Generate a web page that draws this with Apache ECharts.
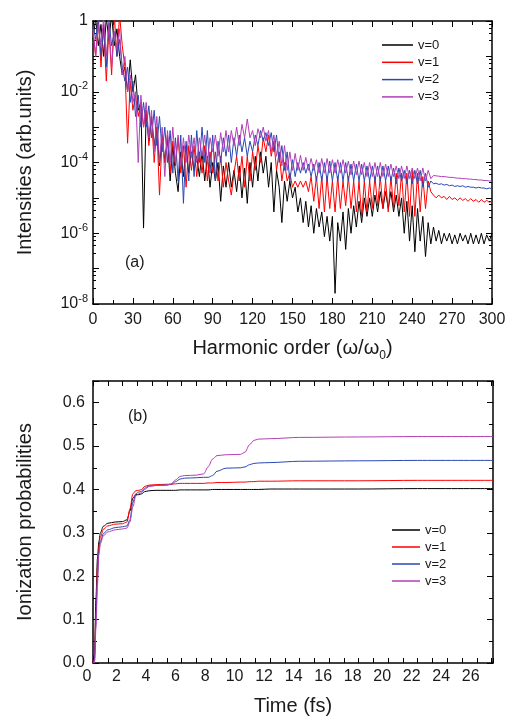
<!DOCTYPE html>
<html><head><meta charset="utf-8">
<script src="https://cdn.jsdelivr.net/npm/echarts@6/dist/echarts.min.js"></script>
<style>html,body{margin:0;padding:0;background:#fff}#c{width:513px;height:720px}</style>
</head><body><div id="c"></div>
<script>
// ---------- Panel (a): HHG spectra ----------
const harmonicOrders = [
  0,2,4,6,8,10,12,14,16,18,
  20,22,24,26,28,30,32,34,36,38,
  40,42,44,46,48,50,52,54,56,58,
  60,62,64,66,68,70,72,74,76,78,
  80,82,84,86,88,90,92,94,96,98,
  100,102,104,106,108,110,112,114,116,118,
  120,122,124,126,128,130,132,134,136,138,
  140,142,144,146,148,150,152,154,156,158,
  160,162,164,166,168,170,172,174,176,178,
  180,182,184,186,188,190,192,194,196,198,
  200,202,204,206,208,210,212,214,216,218,
  220,222,224,226,228,230,232,234,236,238,
  240,242,244,246,248,250,252,254,256,258,
  260,262,264,266,268,270,272,274,276,278,
  280,282,284,286,288,290,292,294,296,298,
  300];

const intensityV0 = [
  0.3,1.2,0.2,0.8,0.1,1.2,0.3,1.5,0.2,0.6,
  0.1,0.03,0.05,0.01,0.08,0.01,0.03,3e-3,5e-3,1.4e-6,
  3e-3,4e-4,2e-3,3e-4,1e-3,8e-5,6e-4,1e-4,5e-4,3e-5,
  3e-4,5e-5,1.5e-5,2e-4,4e-5,3e-4,5e-5,2e-4,6e-5,1.5e-4,
  4e-5,2e-4,3e-5,1.5e-4,2e-5,1e-4,3e-5,1e-4,8e-6,8e-5,
  2e-5,1e-4,2e-5,6e-5,1.5e-5,8e-5,1e-5,7e-5,7e-6,1e-4,
  2e-5,1.5e-4,3e-5,2e-4,5e-5,1.5e-4,2e-5,1e-4,4e-6,6e-5,
  2e-5,2e-6,3e-5,8e-6,3e-5,1e-5,2e-5,4e-6,1e-5,2e-6,
  8e-6,1.5e-6,6e-6,1e-6,5e-6,1.5e-6,4e-6,8e-7,3e-6,6e-7,
  3e-6,2e-8,2e-6,6e-7,4e-6,3.5e-7,5e-6,1e-6,6e-6,1.5e-6,
  8e-6,2e-6,1e-5,3e-6,1e-5,3e-6,1.2e-5,4e-6,1.5e-5,5e-6,
  1.5e-5,5e-6,1.5e-5,4e-6,1.2e-5,3e-6,1e-5,1e-6,8e-6,6e-7,
  6e-6,3e-7,5e-6,6e-7,3e-6,2.2e-7,2e-6,5e-7,1.5e-6,6e-7,
  1.2e-6,5e-7,1e-6,6e-7,1e-6,5e-7,9e-7,5e-7,1e-6,6e-7,
  9e-7,5e-7,1e-6,5e-7,9e-7,5e-7,1e-6,5e-7,9e-7,6e-7,
  1e-6];

const intensityV1 = [
  0.5,0.1,1.2,0.05,0.8,0.02,0.6,0.03,1.5,0.1,
  1.5,0.2,0.05,3.5e-4,0.02,3e-3,8e-3,2e-3,5e-3,1e-3,
  3e-3,3e-4,2e-3,1e-4,1e-3,1.2e-5,5e-4,1e-4,6e-4,5e-5,
  4e-4,8e-5,5e-4,5e-5,3e-4,2e-5,3e-4,6e-5,3e-4,4e-5,
  2e-4,5e-5,3e-4,3e-5,2e-4,5e-5,2e-4,3e-5,1.5e-4,2e-5,
  1e-4,3e-5,1.2e-5,5e-5,1.5e-4,3e-5,1.5e-4,2e-5,1.5e-4,3e-5,
  2e-4,6e-5,3e-4,1e-4,5e-4,2e-4,6e-4,1.5e-4,4e-4,6e-5,
  2e-4,3e-5,1e-4,3e-5,5e-5,2e-5,3e-5,2e-5,3e-5,2e-5,
  3e-5,1.5e-5,4e-5,8e-6,4e-5,5e-6,4e-5,4e-6,4e-5,5e-6,
  3e-5,4e-6,4e-5,5e-6,3e-5,6e-6,4e-5,5e-6,3e-5,4e-6,
  3e-5,3e-6,3e-5,4e-6,3e-5,5e-6,4e-5,6e-6,4e-5,5e-6,
  3e-5,4e-6,4e-5,5e-6,5e-5,6e-6,5e-5,4e-6,5e-5,3e-6,
  6e-5,3e-6,5e-5,4e-6,4e-5,5e-6,3e-5,1.5e-5,1.2e-5,1e-5,
  1.2e-5,1e-5,1.1e-5,9e-6,1.1e-5,9e-6,1e-5,8.5e-6,1e-5,8.5e-6,
  9.5e-6,8e-6,9.5e-6,8e-6,9e-6,7.5e-6,9e-6,7.5e-6,8.5e-6,7.5e-6,
  8e-6];

const intensityV2 = [
  0.8,0.3,1.2,0.1,0.6,0.05,1.0,0.2,0.5,0.1,
  0.3,0.05,0.02,0.05,5e-3,0.02,2e-3,8e-3,1e-3,5e-3,
  1e-3,4e-3,5e-4,3e-3,3e-4,2e-3,2e-4,1e-3,1e-4,8e-4,
  5e-5,5e-4,3e-5,6e-4,7e-6,4e-4,3e-5,6e-4,4e-5,8e-4,
  1e-4,1e-3,1e-4,8e-4,5e-5,6e-4,3e-5,4e-4,1e-4,5e-4,
  1.5e-4,6e-4,1e-4,5e-4,1.5e-4,6e-4,2e-4,5e-4,1.5e-4,4e-4,
  2e-4,6e-4,3e-4,8e-4,4e-4,7e-4,3e-4,7e-4,2e-4,6e-4,
  1e-4,3e-4,6e-5,2e-4,3e-5,1.2e-4,4e-5,1e-4,5e-5,1e-4,
  5e-5,9e-5,4e-5,9e-5,3e-5,1e-4,3e-5,1e-4,3e-5,1.1e-4,
  3e-5,1e-4,3e-5,1e-4,3e-5,1e-4,3e-5,9e-5,3e-5,9e-5,
  3e-5,9e-5,3e-5,8e-5,3e-5,8e-5,3e-5,8e-5,3e-5,8e-5,
  3e-5,8e-5,3e-5,7e-5,2.5e-5,7e-5,3e-5,6e-5,2.5e-5,6e-5,
  2.5e-5,6e-5,2.5e-5,6e-5,2e-5,5e-5,2e-5,3e-5,2.5e-5,2.6e-5,
  2.4e-5,2.5e-5,2.3e-5,2.4e-5,2.2e-5,2.3e-5,2.1e-5,2.2e-5,2.1e-5,2.2e-5,
  2e-5,2.1e-5,2e-5,2e-5,1.9e-5,2e-5,1.9e-5,1.9e-5,1.8e-5,1.9e-5,
  1.8e-5];

const intensityV3 = [
  0.6,0.1,0.8,0.2,1.2,0.1,0.8,0.05,0.5,0.15,
  0.6,0.03,0.1,0.01,0.03,5e-3,0.01,1e-4,8e-3,1e-3,
  5e-3,5e-4,3e-3,2e-4,2e-3,1e-4,1e-3,4e-5,8e-4,1e-4,
  1e-3,1e-4,6e-4,8e-5,5e-4,1e-4,6e-4,1.5e-4,5e-4,1e-4,
  5e-4,1.5e-4,6e-4,1e-4,5e-4,2e-4,6e-4,1.5e-4,7e-4,2e-4,
  8e-4,2e-4,8e-4,3e-4,1e-3,3e-4,1.2e-3,5e-4,1.7e-3,5e-4,
  8e-4,3e-4,9e-4,5e-4,1e-3,4e-4,8e-4,2e-4,6e-4,1.5e-4,
  4e-4,8e-5,3e-4,6e-5,2e-4,6e-5,1.8e-4,6e-5,1.6e-4,6e-5,
  1.4e-4,6e-5,1.3e-4,6e-5,1.2e-4,5e-5,1.3e-4,5e-5,1.3e-4,5e-5,
  1.2e-4,5e-5,1.2e-4,5e-5,1.2e-4,5e-5,1.1e-4,4.5e-5,1.1e-4,4.5e-5,
  1.1e-4,4.5e-5,1e-4,4e-5,1e-4,4e-5,1e-4,4e-5,1e-4,4e-5,
  9e-5,4e-5,9e-5,4e-5,8e-5,3.5e-5,8e-5,3.5e-5,8e-5,3.5e-5,
  7e-5,3.5e-5,7e-5,3e-5,7e-5,3e-5,6e-5,3.5e-5,4.3e-5,4.2e-5,
  4.1e-5,4e-5,4e-5,3.9e-5,3.8e-5,3.8e-5,3.7e-5,3.6e-5,3.6e-5,3.5e-5,
  3.5e-5,3.4e-5,3.4e-5,3.3e-5,3.3e-5,3.2e-5,3.2e-5,3.1e-5,3.1e-5,3e-5,
  3e-5];

// ---------- Panel (b): ionization probabilities ----------
const timeFs = [0,0.1,0.2,0.3,0.4,0.5,0.7,1.0,1.5,2.0,2.3,2.5,2.7,2.9,3.1,3.3,3.5,3.8,4.2,5.0,
  5.3,5.6,5.9,6.2,7.0,7.5,7.8,8.1,8.4,9.0,10.0,10.3,10.6,10.9,11.2,12,14,18,22,27.1];
const probV0 = [0,0.02,0.15,0.24,0.28,0.30,0.315,0.322,0.325,0.326,0.33,0.35,0.38,0.388,0.388,0.39,0.395,0.397,0.398,0.398,
  0.398,0.398,0.399,0.399,0.399,0.399,0.399,0.4,0.4,0.4,0.4,0.4,0.4,0.4,0.4,0.401,0.401,0.401,0.402,0.402];
const probV1 = [0,0.01,0.12,0.22,0.27,0.29,0.308,0.316,0.32,0.321,0.325,0.355,0.39,0.397,0.398,0.40,0.407,0.41,0.411,0.412,
  0.412,0.413,0.414,0.414,0.414,0.414,0.415,0.415,0.416,0.416,0.417,0.417,0.418,0.418,0.419,0.419,0.42,0.42,0.421,0.421];
const probV2 = [0,0.005,0.1,0.2,0.26,0.28,0.298,0.307,0.312,0.314,0.316,0.33,0.37,0.39,0.394,0.396,0.403,0.408,0.409,0.41,
  0.412,0.418,0.424,0.426,0.427,0.428,0.428,0.432,0.442,0.449,0.45,0.452,0.457,0.46,0.461,0.462,0.465,0.466,0.467,0.467];
const probV3 = [0,0,0.08,0.18,0.25,0.275,0.293,0.302,0.307,0.309,0.311,0.325,0.36,0.385,0.39,0.393,0.40,0.407,0.409,0.41,
  0.413,0.422,0.43,0.432,0.433,0.436,0.452,0.47,0.478,0.48,0.481,0.486,0.503,0.513,0.516,0.517,0.52,0.521,0.522,0.522];

const seriesNames = ['v=0','v=1','v=2','v=3'];
const intensitySets = [intensityV0, intensityV1, intensityV2, intensityV3];
const probSets = [probV0, probV1, probV2, probV3];
const lineColors = ['#000000','#ff0000','#2a48b2','#b23fb5'];

const FONT = '"Liberation Sans", Arial, sans-serif';
const TXT = '#1a1a1a';

function pairs(xs, ys){ return xs.map((x,i)=>[x, ys[i]]); }

const axisLineStyle = { show: true, onZero: false, lineStyle: { color: '#000', width: 1.5 } };
function boxAxis(base, extra){ return Object.assign({}, base, extra); }

const topX = { gridIndex: 0, type: 'value', min: 0, max: 300, interval: 30,
  axisLine: axisLineStyle, splitLine: { show: false },
  axisTick: { show: true, inside: true, length: 6, lineStyle: { color: '#000', width: 1 } },
  minorTick: { show: true, splitNumber: 2, length: 4, lineStyle: { color: '#000', width: 1 } } };
const topY = { gridIndex: 0, type: 'log', logBase: 10, min: 1e-8, max: 1, interval: 1,
  axisLine: axisLineStyle, splitLine: { show: false }, minorSplitLine: { show: false },
  axisTick: { show: true, inside: true, length: 6, lineStyle: { color: '#000', width: 1 } },
  minorTick: { show: true, splitNumber: 5, length: 3, lineStyle: { color: '#000', width: 1 } } };
const botX = { gridIndex: 1, type: 'value', min: 0, max: 27.1, interval: 2,
  axisLine: axisLineStyle, splitLine: { show: false },
  axisTick: { show: true, inside: true, length: 5, lineStyle: { color: '#000', width: 1 } },
  minorTick: { show: true, splitNumber: 2, length: 5, lineStyle: { color: '#000', width: 1 } } };
const botY = { gridIndex: 1, type: 'value', min: 0, max: 0.65, interval: 0.1,
  axisLine: axisLineStyle, splitLine: { show: false },
  axisTick: { show: true, inside: true, length: 6, lineStyle: { color: '#000', width: 1 } },
  minorTick: { show: true, splitNumber: 2, length: 4, lineStyle: { color: '#000', width: 1 } } };

const labelBase = { fontSize: 16, color: TXT, fontFamily: FONT };
const legendText = { fontSize: 13, fontFamily: FONT, color: TXT, lineHeight: 14 };

const option = {
  animation: false,
  backgroundColor: '#fff',
  grid: [
    { left: 93, top: 21, width: 399, height: 283 },
    { left: 93, top: 381, width: 400, height: 282 }
  ],
  xAxis: [
    boxAxis(topX, { position: 'bottom',
      axisLabel: Object.assign({}, labelBase, { margin: 8 }),
      name: '{a|Harmonic order (ω/ω}{sub|0}{a|)}', nameLocation: 'middle', nameGap: 30,
      nameTextStyle: { rich: {
        a: { fontSize: 20, fontFamily: FONT, color: TXT, lineHeight: 28, verticalAlign: 'middle' },
        sub: { fontSize: 12, fontFamily: FONT, color: TXT, lineHeight: 12, verticalAlign: 'bottom' } } } }),
    boxAxis(topX, { position: 'top', axisLabel: { show: false } }),
    boxAxis(botX, { position: 'bottom',
      axisLabel: Object.assign({}, labelBase, { margin: 6, showMaxLabel: false, padding: [0, 12, 0, 0] }),
      name: 'Time (fs)', nameLocation: 'middle', nameGap: 33,
      nameTextStyle: { fontSize: 20, fontFamily: FONT, color: TXT } }),
    boxAxis(botX, { position: 'top', axisLabel: { show: false } })
  ],
  yAxis: [
    boxAxis(topY, { position: 'left',
      axisLabel: Object.assign({}, labelBase, { margin: 5,
        formatter: function (v) {
          const e = Math.round(Math.log10(v));
          if (e === 0) return '{b|1}';
          if (e % 2 !== 0) return '';
          return '{b|10}{s|' + e + '}';
        },
        rich: {
          b: { fontSize: 16, fontFamily: FONT, color: TXT, lineHeight: 22, verticalAlign: 'middle' },
          s: { fontSize: 11, fontFamily: FONT, color: TXT, lineHeight: 11, verticalAlign: 'top' } } }),
      name: 'Intensities (arb.units)', nameLocation: 'middle', nameGap: 58,
      nameTextStyle: { fontSize: 20, fontFamily: FONT, color: TXT } }),
    boxAxis(topY, { position: 'right', axisLabel: { show: false } }),
    boxAxis(botY, { position: 'left',
      axisLabel: Object.assign({}, labelBase, { margin: 8, showMaxLabel: false,
        formatter: function (v) { return v.toFixed(1); } }),
      name: 'Ionization probabilities', nameLocation: 'middle', nameGap: 58,
      nameTextStyle: { fontSize: 20, fontFamily: FONT, color: TXT } }),
    boxAxis(botY, { position: 'right', axisLabel: { show: false } })
  ],
  legend: [
    { data: seriesNames, orient: 'vertical', left: 382, top: 38, padding: 0, icon: 'rect',
      itemWidth: 31, itemHeight: 1.5, itemGap: 3.3, textStyle: legendText },
    { data: seriesNames, orient: 'vertical', left: 392, top: 523, padding: 0, icon: 'rect',
      itemWidth: 28, itemHeight: 1.5, itemGap: 3, textStyle: legendText }
  ],
  graphic: [
    { type: 'text', left: 125, top: 255, style: { text: '(a)', fontSize: 16, fontFamily: FONT, fill: TXT } },
    { type: 'text', left: 128, top: 409, style: { text: '(b)', fontSize: 16, fontFamily: FONT, fill: TXT } }
  ],
  series: []
};

seriesNames.forEach((name, k) => {
  option.series.push({
    name: name, type: 'line', xAxisIndex: 0, yAxisIndex: 0, symbol: 'none', clip: true,
    data: pairs(harmonicOrders, intensitySets[k]),
    lineStyle: { width: 1, color: lineColors[k] }, itemStyle: { color: lineColors[k] }
  });
});
seriesNames.forEach((name, k) => {
  option.series.push({
    name: name, type: 'line', xAxisIndex: 2, yAxisIndex: 2, symbol: 'none', clip: true,
    smooth: 0.3, smoothMonotone: 'x',
    data: pairs(timeFs, probSets[k]),
    lineStyle: { width: 1, color: lineColors[k] }, itemStyle: { color: lineColors[k] }
  });
});

const chart = echarts.init(document.getElementById('c'), null, { renderer: 'canvas' });
chart.setOption(option);
</script>
</body></html>
